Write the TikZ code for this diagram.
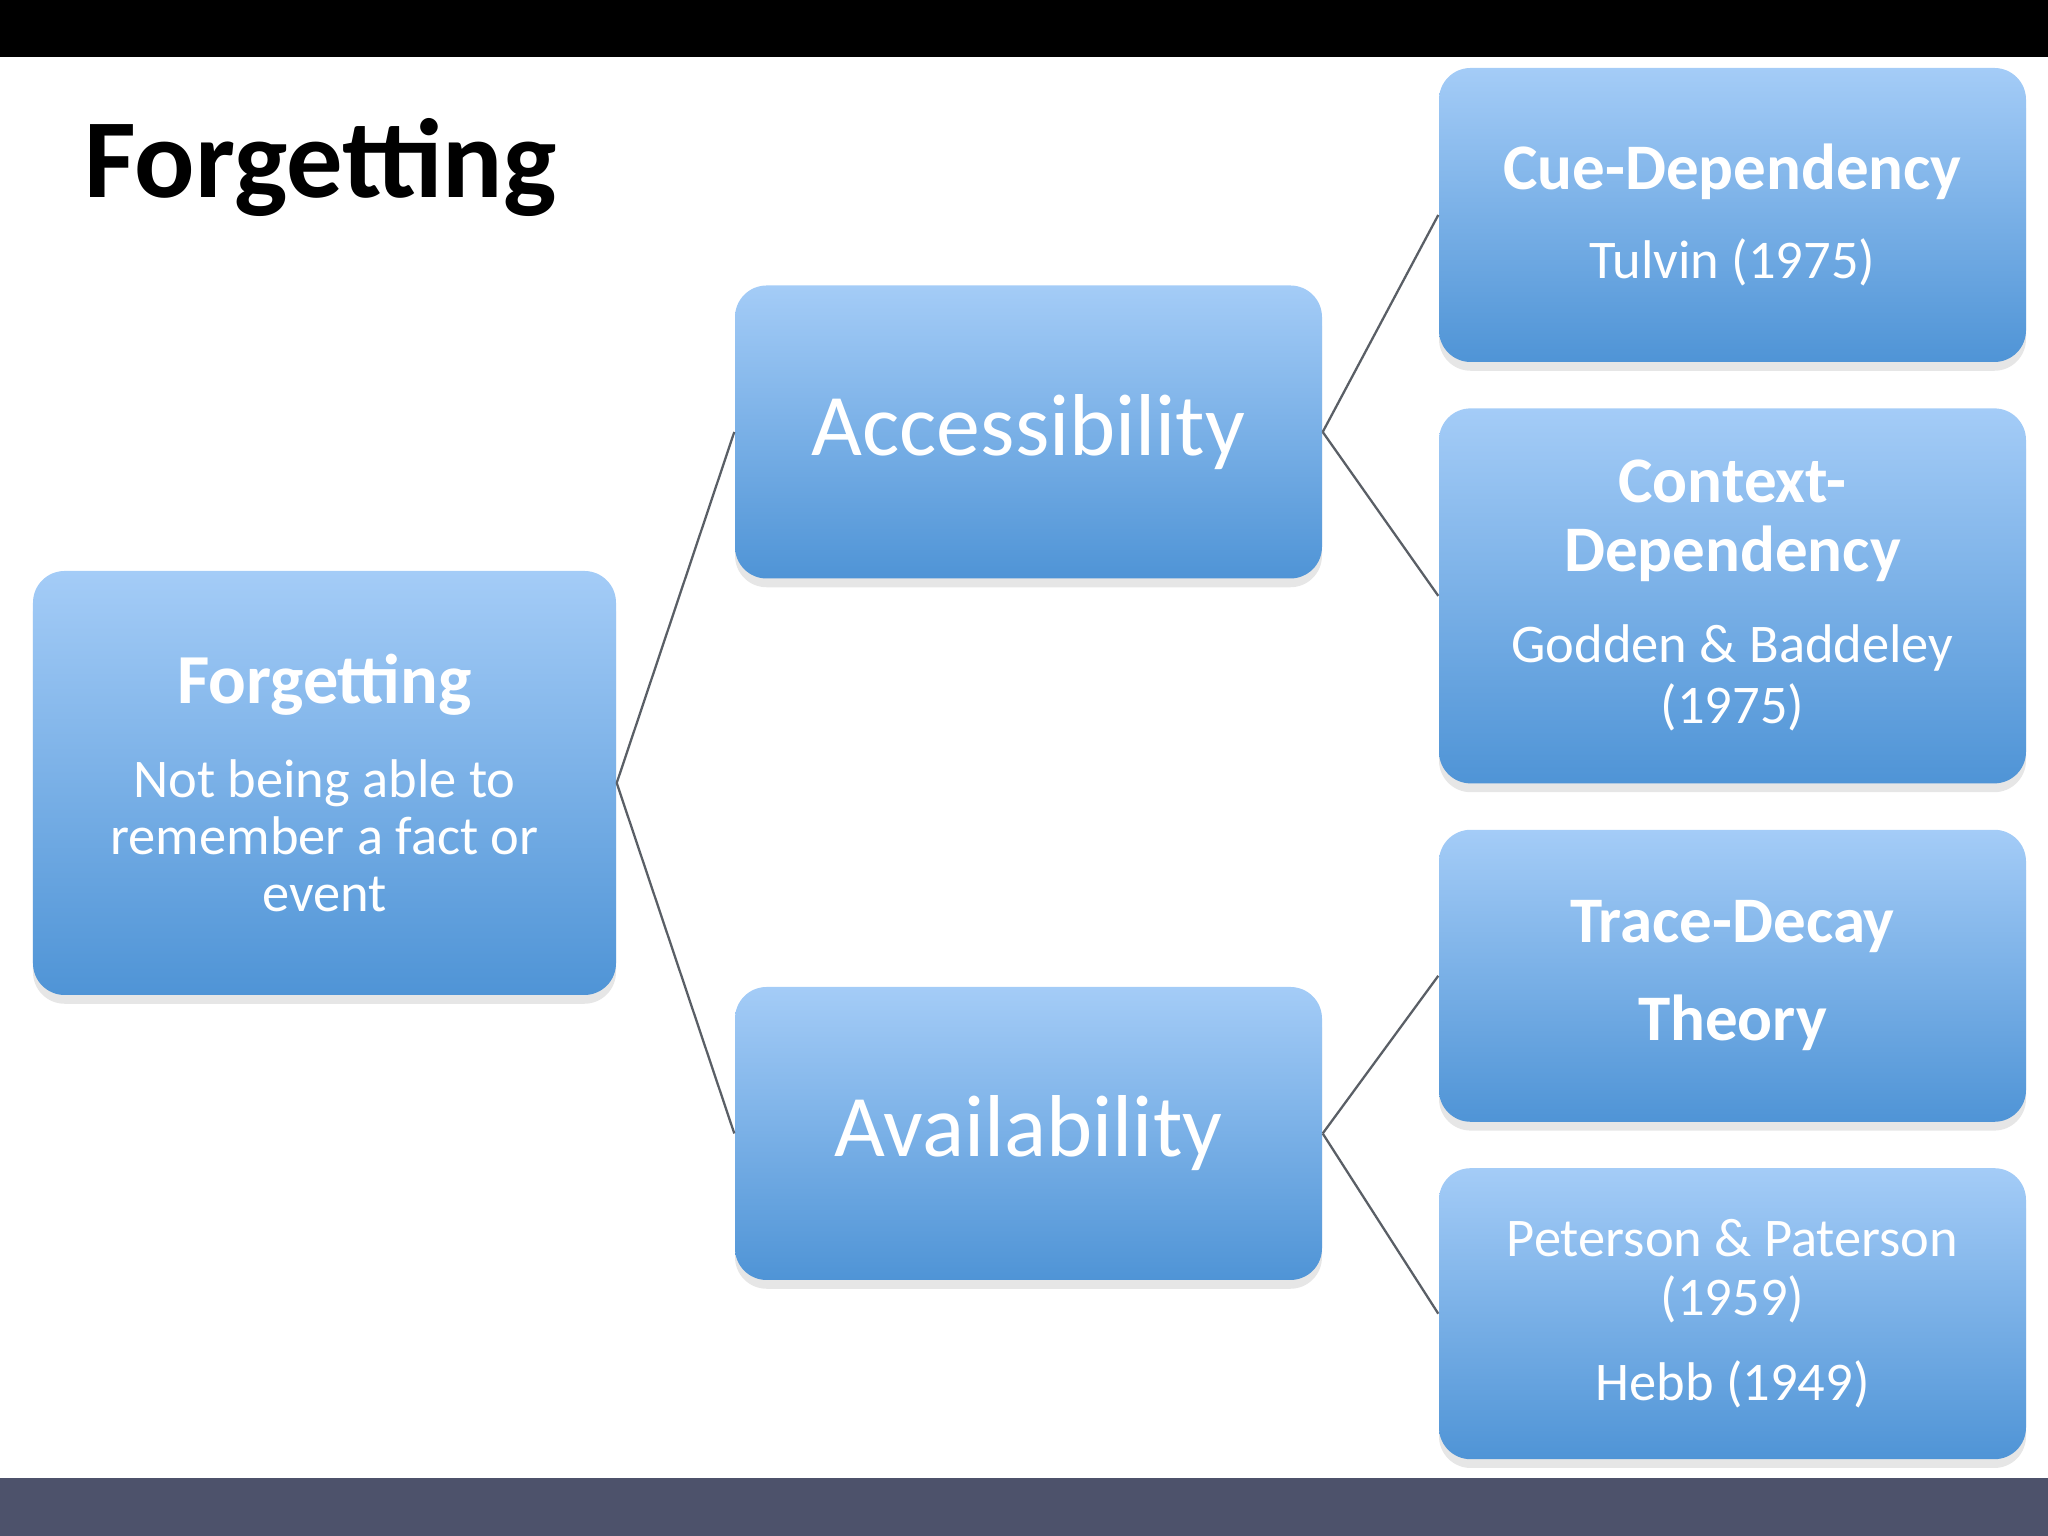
\documentclass[tikz,border=0pt]{standalone}
\usepackage{fontspec}
\setmainfont{Carlito}
\usetikzlibrary{positioning,shadows}
\definecolor{CardTop}{HTML}{A4CCF7}
\definecolor{CardBottom}{HTML}{4F94D6}
\definecolor{Branch}{HTML}{5A5F66}
\definecolor{Footer}{HTML}{4D526B}

\begin{document}
\begin{tikzpicture}[node distance=4.5mm,
        card/.style={rounded corners=9pt,top color=CardTop,bottom color=CardBottom,text=white,text width=5.87cm,minimum height=2.93cm,align=flush center,inner sep=0pt,font=\fontsize{15.5}{16.3}\selectfont,drop shadow={shadow xshift=0pt,shadow yshift=-2.5pt,opacity=.2}},
        big/.style={font=\fontsize{25}{30}\selectfont},
        branch/.style={draw=Branch,line width=.65pt}]
        \useasboundingbox (0,0) rectangle (20.48,15.36);
        \fill[black] (0,14.79) rectangle (20.48,15.36);
        \fill[Footer] (0,0) rectangle (20.48,.58);
        \node[anchor=base west,inner sep=0pt,font=\fontsize{32}{36}\selectfont\bfseries] (title) at (0.84,13.38) {Forgetting};
        \node[card,text width=5.83cm,minimum height=4.24cm] (forgetting) at (3.245,7.53) {{\fontsize{20}{24}\selectfont\bfseries Forgetting}\\[10.4pt]Not being able to\\remember a fact or\\event};
        \node[card,big] (access) at (10.285,11.04) {Accessibility};
        \node[card,big] (avail) at (10.285,4.025) {Availability};
        \node[card,minimum height=2.94cm] (cue) at (17.325,13.21) {{\fontsize{18.5}{20}\selectfont\bfseries Cue-Dependency}\\[9pt]Tulvin (1975)};
        \node[card,minimum height=3.75cm,below=of cue] (context) {{\fontsize{18.5}{20}\selectfont\bfseries Context-}\\[3.3pt]{\fontsize{18.5}{20}\selectfont\bfseries Dependency}\\[9.6pt]Godden \& Baddeley\\[1.1pt](1975)};
        \node[card,minimum height=2.92cm,below=of context] (decay) {{\fontsize{18.5}{20}\selectfont\bfseries Trace-Decay}\\[11.6pt]{\fontsize{18.5}{20}\selectfont\bfseries Theory}};
        \node[card,minimum height=2.91cm,below=of decay] (peterson) {Peterson \& Paterson\\[.5pt](1959)\\[7.9pt]Hebb (1949)};
        \draw[branch] (forgetting.east) -- (access.west);\draw[branch] (forgetting.east) -- (avail.west);
        \draw[branch] (access.east) -- (cue.west);\draw[branch] (access.east) -- (context.west);
        \draw[branch] (avail.east) -- (decay.west);\draw[branch] (avail.east) -- (peterson.west);
      \end{tikzpicture}
\end{document}
